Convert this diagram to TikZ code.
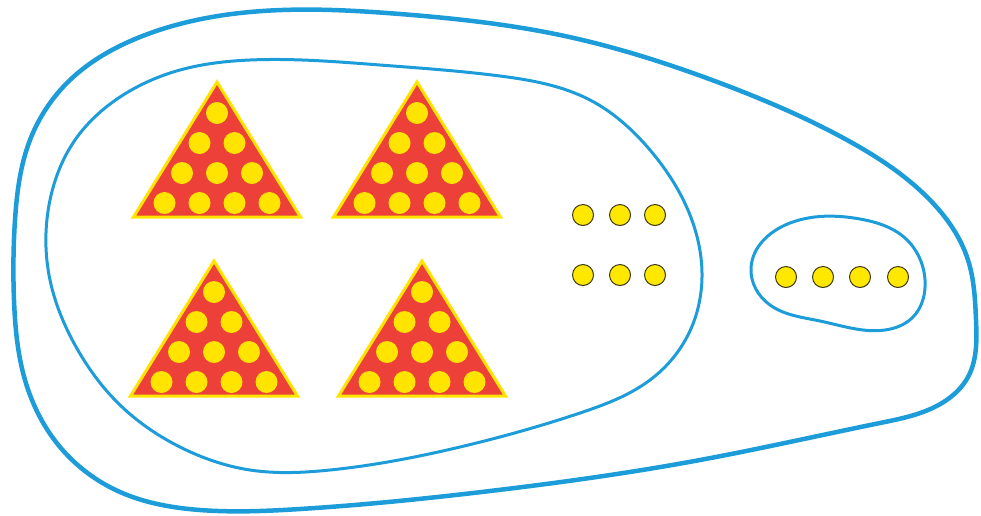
\documentclass[tikz,border=0pt]{standalone}
\usetikzlibrary{hobby}
\definecolor{setblue}{RGB}{28,156,216}
\definecolor{trired}{RGB}{236,64,56}
\definecolor{triyel}{RGB}{255,228,0}
\definecolor{dotyel}{RGB}{255,232,0}
\definecolor{dotline}{RGB}{60,55,20}
\tikzset{
  outerline/.style={draw=setblue, line width=4.5pt},
  innerline/.style={draw=setblue, line width=3pt},
  tridot/.style={fill=triyel},
  smalldot/.style={fill=dotyel, draw=dotline, line width=1pt},
  tri/.pic={
    \path[fill=trired, draw=triyel, line width=3pt, line join=miter]
      (0,0) -- (83.5,135) -- (-83.5,135) -- cycle;
    \foreach \p in {(0,31),(-17.5,61),(17.5,61),(-35,91),(0,91),(35,91),
                    (-52.5,121),(-17.5,121),(17.5,121),(52.5,121)}
      \fill[tridot] \p circle (11);
  }
}
\begin{document}
\begin{tikzpicture}[x=1pt,y=-1pt]
\useasboundingbox (0,0) rectangle (981,515);
% outer set
\draw[outerline, use Hobby shortcut, closed=true]
  (250,12) .. (400,14) .. (560,35) .. (720,83) .. (847,140)
  .. (930,200) .. (968,260) .. (976,320) .. (968,377) .. (942,403)
  .. (880,423) .. (700,460) .. (490,491) .. (300,509) .. (200,510)
  .. (120,492) .. (60,447) .. (25,380) .. (14,300) .. (15,220)
  .. (30,140) .. (70,80) .. (140,37);
% inner set
\draw[innerline, use Hobby shortcut, closed=true]
  (250,60) .. (380,65) .. (500,76) .. (590,100) .. (650,150)
  .. (690,215) .. (702,277) .. (688,335) .. (650,380) .. (580,413)
  .. (460,447) .. (330,470) .. (250,470) .. (180,447) .. (120,405)
  .. (75,345) .. (50,280) .. (50,200) .. (75,140) .. (120,97)
  .. (180,70);
% small loop
\draw[innerline, use Hobby shortcut, closed=true]
  (751,268) .. (790,223) .. (860,219) .. (905,238) .. (925,280)
  .. (912,318) .. (885,330) .. (820,321) .. (770,305);
% triangles
\pic at (217,82) {tri};
\pic at (417,82) {tri};
\pic at (214,261) {tri};
\pic at (422,261) {tri};
% dots
\foreach \x in {583,620,655}{
  \draw[smalldot] (\x,215) circle (10.5);
  \draw[smalldot] (\x,275) circle (10.5);
}
\foreach \x in {786,823,860,898}
  \draw[smalldot] (\x,277) circle (10.5);
\end{tikzpicture}
\end{document}
